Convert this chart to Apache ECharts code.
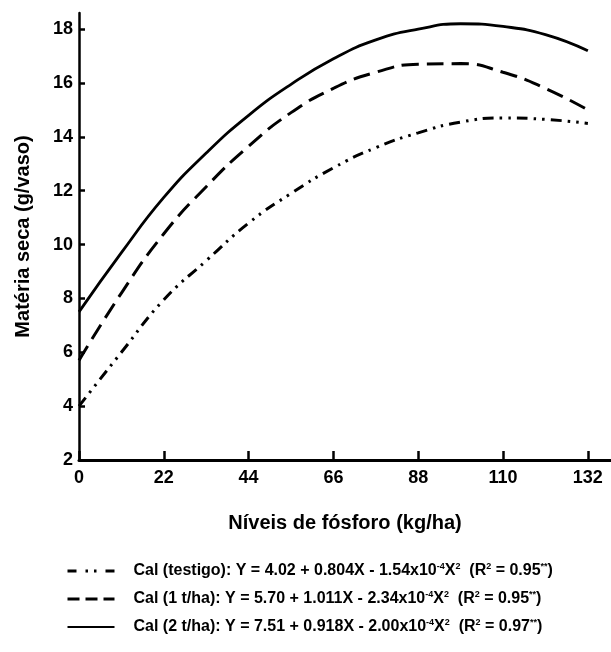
<!DOCTYPE html>
<html>
<head>
<meta charset="utf-8">
<script src="https://cdn.jsdelivr.net/npm/echarts@6/dist/echarts.min.js"></script>
<style>
html,body{margin:0;padding:0;background:#fff;}
#c{width:611px;height:652px;}
</style>
</head>
<body>
<div id="c"></div>
<script>
// Data
var fosforo = [0, 11, 22, 33, 44, 55, 66, 77, 88, 99, 110, 121, 132];
var calTestigo = [4.0, 6.0, 7.95, 9.4, 10.8, 11.9, 12.85, 13.6, 14.15, 14.55, 14.7, 14.65, 14.5];
var cal1 = [5.7, 8.2, 10.4, 12.15, 13.65, 14.9, 15.8, 16.4, 16.7, 16.72, 16.4, 15.8, 15.0];
var cal2 = [7.5, 9.7, 11.75, 13.4, 14.8, 15.95, 16.9, 17.6, 18.0, 18.2, 18.1, 17.8, 17.2];
var xTicks = [0, 22, 44, 66, 88, 110, 132];
var yTicks = [2, 4, 6, 8, 10, 12, 14, 16, 18];

var names = ['Cal (testigo)', 'Cal (1 t/ha)', 'Cal (2 t/ha)'];
var legendText = {
  'Cal (testigo)': '{t|Cal (testigo): Y = 4.02 + 0.804X - 1.54x10}{s|-4}{t|X}{s|2}{t|  (R}{s|2}{t| = 0.95}{s|**}{t|)}',
  'Cal (1 t/ha)': '{t|Cal (1 t/ha): Y = 5.70 + 1.011X - 2.34x10}{s|-4}{t|X}{s|2}{t|  (R}{s|2}{t| = 0.95}{s|**}{t|)}',
  'Cal (2 t/ha)': '{t|Cal (2 t/ha): Y = 7.51 + 0.918X - 2.00x10}{s|-4}{t|X}{s|2}{t|  (R}{s|2}{t| = 0.97}{s|**}{t|)}'
};

function pairs(ys) { return fosforo.map(function (x, i) { return [x, ys[i]]; }); }

var FONT = 'Liberation Sans, Arial, Helvetica, sans-serif';
var styles = [
  {type: [11, 6, 2.5, 6, 2.5, 6], width: 3},
  {type: [17, 8], width: 3},
  {type: 'solid', width: 2.8}
];
var datas = [calTestigo, cal1, cal2];
var hidden = {color: 'rgba(0,0,0,0)', borderWidth: 0, opacity: 0};

var chart = echarts.init(document.getElementById('c'), null, {renderer: 'canvas'});
chart.setOption({
  animation: false,
  backgroundColor: '#fff',
  grid: {left: 79, right: 0, top: 13, bottom: 192, containLabel: false},
  xAxis: {
    type: 'value', min: 0, max: 138, interval: 22,
    name: 'Níveis de fósforo (kg/ha)', nameLocation: 'middle', nameGap: 53,
    nameTextStyle: {fontFamily: FONT, fontSize: 20, fontWeight: 'bold', color: '#000'},
    axisLine: {show: true, lineStyle: {color: '#000', width: 3}},
    axisTick: {show: true, inside: true, length: 9, lineStyle: {color: '#000', width: 2.5}},
    axisLabel: {fontFamily: FONT, fontSize: 18, fontWeight: 'bold', color: '#000', margin: 9,
      showMaxLabel: false,
      formatter: function (v) { return xTicks.indexOf(v) >= 0 ? String(v) : ''; }},
    splitLine: {show: false}
  },
  yAxis: {
    type: 'value', min: 2, max: 18.6, interval: 2,
    name: 'Matéria seca (g/vaso)', nameLocation: 'middle', nameGap: 46,
    nameTextStyle: {fontFamily: FONT, fontSize: 20, fontWeight: 'bold', color: '#000'},
    axisLine: {show: true, lineStyle: {color: '#000', width: 2.5}},
    axisTick: {show: true, inside: true, length: 6, lineStyle: {color: '#000', width: 2.5}},
    axisLabel: {fontFamily: FONT, fontSize: 18, fontWeight: 'bold', color: '#000', margin: 6,
      showMaxLabel: false,
      formatter: function (v) { return yTicks.indexOf(v) >= 0 ? String(v) : ''; }},
    splitLine: {show: false}
  },
  legend: {
    orient: 'vertical', left: 61, top: 557, itemWidth: 47, itemHeight: 14, itemGap: 11,
    itemStyle: hidden,
    data: [
      {name: names[0], itemStyle: hidden, lineStyle: {type: [9, 9, 2.5, 6, 2.5, 9], width: 3, color: '#000'}},
      {name: names[1], itemStyle: hidden, lineStyle: {type: [12, 6], width: 3, color: '#000'}},
      {name: names[2], itemStyle: hidden, lineStyle: {type: 'solid', width: 2.2, color: '#000'}}
    ],
    formatter: function (n) { return legendText[n]; },
    textStyle: {
      fontFamily: FONT, color: '#000', padding: [0, 0, 0, 14],
      rich: {
        t: {fontFamily: FONT, fontSize: 16, fontWeight: 'bold', color: '#000', lineHeight: 18},
        s: {fontFamily: FONT, fontSize: 9, fontWeight: 'bold', color: '#000', verticalAlign: 'top', lineHeight: 11}
      }
    },
    selectedMode: false
  },
  series: names.map(function (n, i) {
    return {
      name: n, type: 'line', data: pairs(datas[i]), smooth: true,
      showSymbol: false, symbol: 'none',
      lineStyle: {color: '#000', width: styles[i].width, type: styles[i].type},
      itemStyle: {color: '#000'}
    };
  })
});
</script>
</body>
</html>
